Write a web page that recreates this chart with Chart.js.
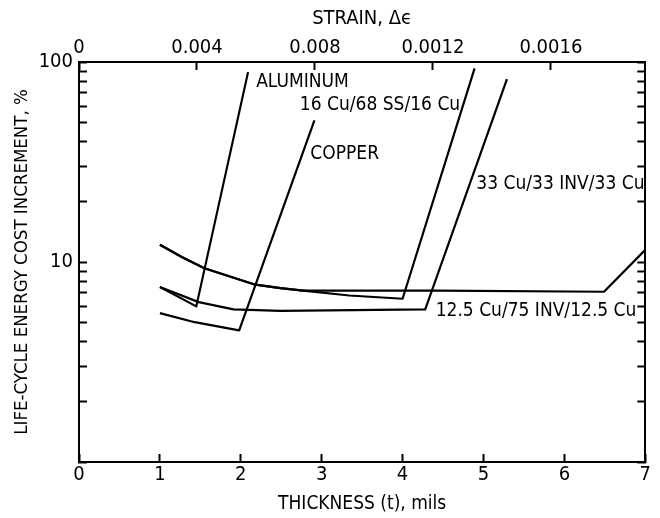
<!DOCTYPE html>
<html>
<head>
<meta charset="UTF-8">
<title>Life-cycle energy cost increment vs thickness</title>
<script src="https://cdn.jsdelivr.net/npm/chart.js"></script>
<style>
  html, body { margin: 0; padding: 0; background: #fff; }
</style>
</head>
<body>
<canvas id="chart" width="660" height="518"></canvas>
<script>
// thickness (mils) and life-cycle energy cost increment (%) for each foil
const aluminumX = [1.0, 1.45, 2.09];
const aluminumY = [7.5, 6.0, 89];
const copperX = [1.0, 1.43, 1.98, 2.91];
const copperY = [5.55, 5.0, 4.55, 51];
const cuSsCuX = [1.0, 1.27, 1.55, 2.18, 2.49, 2.77, 3.34, 4.0, 4.89];
const cuSsCuY = [12.2, 10.6, 9.3, 7.7, 7.4, 7.2, 6.8, 6.55, 93];
const cu33InvX = [1.0, 1.48, 1.91, 2.49, 4.28, 5.29];
const cu33InvY = [7.5, 6.3, 5.8, 5.7, 5.8, 82];
const cu125InvX = [1.0, 1.27, 1.55, 2.18, 2.49, 2.77, 4.44, 6.49, 7.0];
const cu125InvY = [12.2, 10.6, 9.3, 7.7, 7.4, 7.2, 7.2, 7.1, 11.5];

// curve labels and where they sit (data units)
const curveNames = ['ALUMINUM', '16 Cu/68 SS/16 Cu', 'COPPER', '33 Cu/33 INV/33 Cu', '12.5 Cu/75 INV/12.5 Cu'];
const nameX = [2.19, 2.73, 2.86, 6.99, 6.89];
const nameY = [79, 61, 34.5, 24.5, 5.7];
const nameAlign = ['left', 'left', 'left', 'right', 'right'];

// axes
const thicknessTicks = [0, 1, 2, 3, 4, 5, 6, 7];
const strainTicks = [0, 0.004, 0.008, 0.012, 0.016];
const strainLabels = ['0', '0.004', '0.008', '0.0012', '0.0016'];
const costTicks = [1, 2, 3, 4, 5, 6, 7, 8, 9, 10, 20, 30, 40, 50, 60, 70, 80, 90, 100];
const costLabels = { 10: '10', 100: '100' };

const FONT = "'Liberation Sans Narrow', 'DejaVu Sans Condensed', sans-serif";

function pts(xs, ys) {
    return xs.map((x, i) => ({ x: x, y: ys[i] }));
}
function curve(label, xs, ys) {
    return {
        label: label, data: pts(xs, ys),
        borderColor: '#000', borderWidth: 2.2, pointRadius: 0,
        tension: 0, fill: false, borderJoinStyle: 'round'
    };
}

const curveLabels = {
    id: 'curveLabels',
    afterDatasetsDraw(chart) {
        const ctx = chart.ctx;
        const sx = chart.scales.x, sy = chart.scales.y;
        ctx.save();
        ctx.fillStyle = '#000';
        ctx.font = '19px ' + FONT;
        ctx.textBaseline = 'middle';
        curveNames.forEach((name, i) => {
            ctx.textAlign = nameAlign[i];
            ctx.fillText(name, sx.getPixelForValue(nameX[i]), sy.getPixelForValue(nameY[i]));
        });
        ctx.restore();
    }
};

const black = '#000';
const tickFont = { family: FONT, size: 20 };

new Chart(document.getElementById('chart').getContext('2d'), {
    type: 'line',
    data: {
        datasets: [
            curve('ALUMINUM', aluminumX, aluminumY),
            curve('COPPER', copperX, copperY),
            curve('16 Cu/68 SS/16 Cu', cuSsCuX, cuSsCuY),
            curve('33 Cu/33 INV/33 Cu', cu33InvX, cu33InvY),
            curve('12.5 Cu/75 INV/12.5 Cu', cu125InvX, cu125InvY)
        ]
    },
    options: {
        responsive: false,
        animation: false,
        layout: { padding: 0 },
        plugins: { legend: { display: false }, tooltip: { enabled: false } },
        scales: {
            x: {
                type: 'linear', position: 'bottom', min: 0, max: 7,
                afterBuildTicks: s => { s.ticks = thicknessTicks.map(v => ({ value: v })); },
                afterFit: s => { s.height = 56; },
                ticks: { color: black, font: tickFont, padding: 9, maxRotation: 0, autoSkip: false,
                         callback: v => String(v) },
                grid: { drawOnChartArea: false, tickLength: -8, tickColor: black, tickWidth: 2 },
                border: { color: black, width: 2 },
                title: { display: true, text: 'THICKNESS (t), mils', color: black,
                         font: { family: FONT, size: 19 }, padding: { top: 0, bottom: 3 } }
            },
            x2: {
                type: 'linear', position: 'top', min: 0, max: 0.0192,
                afterBuildTicks: s => { s.ticks = strainTicks.map(v => ({ value: v })); },
                afterFit: s => { s.height = 62; },
                ticks: { color: black, font: tickFont, padding: 10, maxRotation: 0, autoSkip: false,
                         callback: (v, i) => strainLabels[i] },
                grid: { drawOnChartArea: false, tickLength: -8, tickColor: black, tickWidth: 2 },
                border: { color: black, width: 2 },
                title: { display: true, text: 'STRAIN, \u0394\u03F5', color: black, font: tickFont,
                         padding: { top: 7, bottom: 0 } }
            },
            y: {
                type: 'logarithmic', position: 'left', min: 1, max: 100,
                afterBuildTicks: s => { s.ticks = costTicks.map(v => ({ value: v })); },
                afterFit: s => { s.width = 79; },
                ticks: { color: black, font: tickFont, padding: 14, autoSkip: false,
                         callback: v => costLabels[v] || '' },
                grid: { drawOnChartArea: false, tickLength: -8, tickColor: black, tickWidth: 2 },
                border: { color: black, width: 2 },
                title: { display: true, text: 'LIFE-CYCLE ENERGY COST INCREMENT, %', color: black,
                         font: { family: FONT, size: 18.5 }, padding: { top: 11, bottom: 0 } }
            },
            y2: {
                type: 'logarithmic', position: 'right', min: 1, max: 100,
                afterBuildTicks: s => { s.ticks = costTicks.map(v => ({ value: v })); },
                afterFit: s => { s.width = 9; },
                ticks: { display: false },
                grid: { drawOnChartArea: false, tickLength: -8, tickColor: black, tickWidth: 2 },
                border: { color: black, width: 2 }
            }
        }
    },
    plugins: [curveLabels]
});
</script>
</body>
</html>
